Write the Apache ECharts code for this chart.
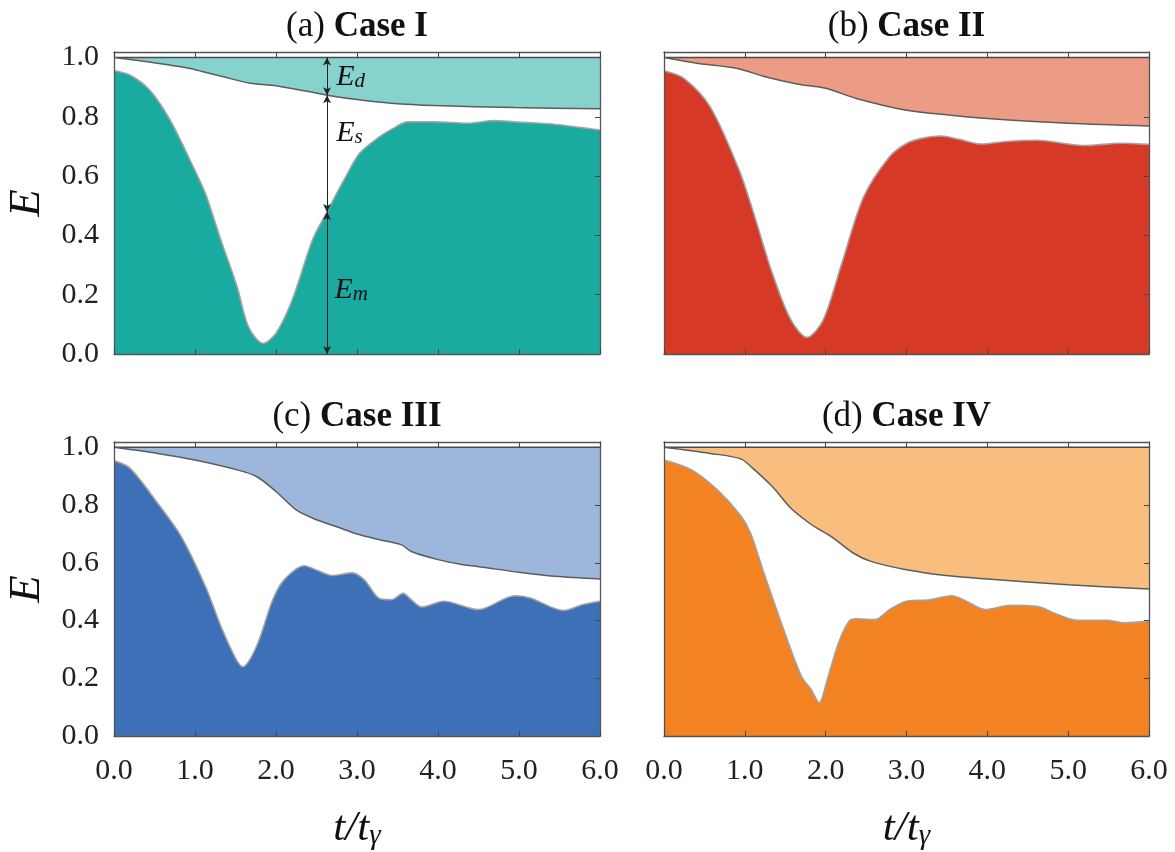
<!DOCTYPE html>
<html><head><meta charset="utf-8">
<script src="https://cdn.jsdelivr.net/npm/echarts@6/dist/echarts.min.js"></script>
<style>html,body{margin:0;padding:0;background:#fff}#c{width:1175px;height:852px}</style>
</head><body><div id="c"></div>
<script>
// ---------- data ----------
const panelTitles = [['(a)','Case I'],['(b)','Case II'],['(c)','Case III'],['(d)','Case IV']];
const xTickValues = [0,1,2,3,4,5,6];
const yTickValues = [0,0.2,0.4,0.6,0.8,1.0];

// total energy (normalised) line
const total_t = [0, 6];
const total_E = [1.0, 1.0];

const upperA_t = [0,0.3,0.6,0.94,1.1,1.35,1.68,2.0,2.18,2.4,2.65,3.0,3.42,3.96,4.94,6.0];
const upperA_E = [1.0,0.99,0.978,0.963,0.952,0.935,0.913,0.905,0.896,0.885,0.872,0.858,0.846,0.838,0.831,0.827];
const lowerA_t = [0,0.2,0.44,0.69,0.98,1.13,1.32,1.52,1.66,1.84,2.0,2.2,2.45,2.62,2.84,3.03,3.28,3.48,3.62,3.96,4.36,4.7,4.94,5.43,6.0];
const lowerA_E = [0.955,0.94,0.89,0.79,0.63,0.54,0.384,0.227,0.092,0.036,0.07,0.182,0.384,0.474,0.587,0.676,0.733,0.766,0.783,0.783,0.778,0.787,0.783,0.775,0.755];

const upperB_t = [0,0.43,0.91,1.25,1.66,2.0,2.38,3.0,3.52,4.0,5.0,6.0];
const upperB_E = [1.0,0.98,0.963,0.935,0.91,0.896,0.862,0.822,0.806,0.794,0.778,0.769];
const lowerB_t = [0,0.25,0.57,0.93,1.11,1.34,1.57,1.77,1.97,2.2,2.47,2.79,3.0,3.2,3.43,3.65,3.93,4.2,4.61,5.0,5.2,5.65,6.0];
const lowerB_E = [0.955,0.929,0.834,0.62,0.474,0.272,0.115,0.056,0.115,0.306,0.53,0.665,0.71,0.728,0.735,0.724,0.708,0.716,0.721,0.708,0.703,0.711,0.707];

const upperC_t = [0,0.54,1.0,1.52,1.76,2.0,2.25,2.5,2.74,3.0,3.28,3.55,3.67,4.0,4.26,4.55,5.0,5.44,6.0];
const upperC_E = [1.0,0.979,0.956,0.922,0.899,0.847,0.783,0.749,0.726,0.7,0.68,0.662,0.639,0.611,0.596,0.585,0.567,0.553,0.544];
const lowerC_t = [0,0.2,0.54,0.83,1.13,1.32,1.5,1.59,1.76,1.96,2.1,2.35,2.5,2.69,2.94,3.09,3.28,3.43,3.57,3.67,3.8,4.07,4.5,4.95,5.14,5.55,5.78,6.0];
const lowerC_E = [0.954,0.927,0.806,0.691,0.518,0.38,0.27,0.24,0.311,0.472,0.541,0.59,0.575,0.556,0.565,0.541,0.476,0.472,0.494,0.472,0.447,0.467,0.438,0.486,0.478,0.435,0.455,0.467];

const upperD_t = [0,0.57,0.95,1.1,1.34,1.57,1.8,1.93,2.07,2.34,2.56,3.0,3.52,4.0,5.0,6.0];
const upperD_E = [1.0,0.979,0.96,0.927,0.864,0.789,0.737,0.714,0.691,0.634,0.605,0.576,0.555,0.544,0.524,0.509];
const lowerD_t = [0,0.34,0.66,0.95,1.07,1.25,1.48,1.7,1.82,1.92,2.02,2.16,2.29,2.38,2.61,2.79,3.0,3.29,3.56,3.74,3.97,4.29,4.61,4.88,5.11,5.47,5.7,6.0];
const lowerD_E = [0.956,0.922,0.853,0.763,0.703,0.553,0.369,0.207,0.161,0.115,0.196,0.323,0.398,0.406,0.403,0.438,0.467,0.472,0.486,0.467,0.438,0.453,0.449,0.42,0.401,0.401,0.392,0.398];

// annotation in panel (a)
const annotArrow_t = 2.63;
const annotLabel_t = [2.73, 2.73, 2.71];
const annotLabel_E = [0.934, 0.745, 0.216];
const annotLabel_sub = ['d', 's', 'm'];

// ---------- styling / layout ----------
const FONT = '"Liberation Serif", "DejaVu Serif", serif';
const curves = [
  [upperA_t, upperA_E, lowerA_t, lowerA_E],
  [upperB_t, upperB_E, lowerB_t, lowerB_E],
  [upperC_t, upperC_E, lowerC_t, lowerC_E],
  [upperD_t, upperD_E, lowerD_t, lowerD_E]
];
const colors = [
  {dark:'#1aaba0', light:'#86d2cd'},
  {dark:'#d63a27', light:'#ec9c84'},
  {dark:'#3e70b7', light:'#9cb6dc'},
  {dark:'#f28222', light:'#f9be7e'}
];
const grids = [
  {left:114, top:52, width:486, height:302},
  {left:664, top:52, width:485, height:302},
  {left:114, top:442, width:486, height:295},
  {left:664, top:442, width:485, height:295}
];
const Y_MAX = 1.0185;
const FRAME = '#555';

function pairs(ts, es){ return ts.map((t,i)=>[t, es[i]]); }
function interp(ts, es, t){
  for (let i=1;i<ts.length;i++){ if (t<=ts[i]){ const f=(t-ts[i-1])/(ts[i]-ts[i-1]); return es[i-1]+f*(es[i]-es[i-1]); } }
  return es[es.length-1];
}

const xAxes = [], yAxes = [], series = [];
grids.forEach((g,i)=>{
  const bottomRow = i>=2, leftCol = (i%2===0);
  xAxes.push({
    gridIndex:i, type:'value', min:0, max:6, interval:1, position:'bottom', z:10,
    axisLine:{show:true, onZero:false, lineStyle:{color:FRAME, width:1.3}},
    axisTick:{show:true, inside:true, length:5, lineStyle:{color:'#444', width:1}},
    axisLabel:{show:bottomRow, margin:20, fontFamily:FONT, fontSize:30, color:'#222', formatter:v=>v.toFixed(1)},
    splitLine:{show:false},
    name: bottomRow ? '{t|t/t}{g|γ}' : '', nameLocation:'middle', nameGap:71,
    nameTextStyle:{rich:{
      t:{fontFamily:FONT, fontStyle:'italic', fontSize:43, color:'#111', lineHeight:44},
      g:{fontFamily:FONT, fontStyle:'italic', fontSize:29, color:'#111', lineHeight:12, verticalAlign:'bottom'}
    }}
  });
  xAxes.push({
    gridIndex:i, type:'value', min:0, max:6, interval:1, position:'top', z:10,
    axisLine:{show:true, onZero:false, lineStyle:{color:FRAME, width:1.3}},
    axisTick:{show:true, inside:true, length:6, lineStyle:{color:'#444', width:1}},
    axisLabel:{show:false}, splitLine:{show:false}
  });
  yAxes.push({
    gridIndex:i, type:'value', min:0, max:Y_MAX, interval:0.2, position:'left', z:10,
    axisLine:{show:true, onZero:false, lineStyle:{color:FRAME, width:1.3}},
    axisTick:{show:false},
    axisLabel:{show:leftCol, margin:15, fontFamily:FONT, fontSize:30, color:'#222',
      customValues:yTickValues, formatter:v=> v>1.001 ? '' : v.toFixed(1)},
    splitLine:{show:false},
    name: leftCol ? 'E' : '', nameLocation:'middle', nameGap:64,
    nameTextStyle:{fontFamily:FONT, fontStyle:'italic', fontSize:45, color:'#111'}
  });
  yAxes.push({
    gridIndex:i, type:'value', min:0, max:Y_MAX, interval:0.2, position:'right', z:10,
    axisLine:{show:true, onZero:false, lineStyle:{color:FRAME, width:1.3}},
    axisTick:{show:true, inside:true, length:5, customValues:yTickValues.slice(1,-1), lineStyle:{color:'#444', width:1}},
    axisLabel:{show:false}, splitLine:{show:false}
  });
  const [ut, ue, lt, le] = curves[i];
  const xi = 2*i, yi = 2*i;
  series.push({
    type:'line', xAxisIndex:xi, yAxisIndex:yi, data:pairs(total_t, total_E),
    symbol:'none', silent:true, z:1,
    lineStyle:{color:'#4a4a4a', width:1.5},
    areaStyle:{color:colors[i].light, opacity:1, origin:'start'}
  });
  series.push({
    type:'line', xAxisIndex:xi, yAxisIndex:yi, data:pairs(ut, ue),
    smooth:0.3, symbol:'none', silent:true, z:2,
    lineStyle:{color:'#5c5c5c', width:1.5},
    areaStyle:{color:'#ffffff', opacity:1, origin:'start'}
  });
  series.push({
    type:'line', xAxisIndex:xi, yAxisIndex:yi, data:pairs(lt, le),
    smooth:0.3, symbol:'none', silent:true, z:3,
    lineStyle:{color:'#a3a3a3', width:1.6},
    areaStyle:{color:colors[i].dark, opacity:1, origin:'start'}
  });
});

// annotation arrows + labels in panel (a)
const upAt = interp(upperA_t, upperA_E, annotArrow_t);
const loAt = interp(lowerA_t, lowerA_E, annotArrow_t);
series.push({
  type:'scatter', xAxisIndex:0, yAxisIndex:0, z:6, silent:true,
  symbolSize:2, itemStyle:{color:'rgba(0,0,0,0)'},
  data: annotLabel_t.map((t,k)=>({value:[t, annotLabel_E[k]], sub:annotLabel_sub[k]})),
  label:{show:true, position:'right', distance:0, color:'#111', opacity:1,
    formatter:p=>'{e|E}{s|'+p.data.sub+'}',
    rich:{
      e:{fontFamily:FONT, fontStyle:'italic', fontSize:30, color:'#111', lineHeight:30},
      s:{fontFamily:FONT, fontStyle:'italic', fontSize:21, color:'#111', lineHeight:10, verticalAlign:'bottom'}
    }},
  emphasis:{disabled:true},
  labelLayout:{hideOverlap:false},
  markLine:{
    silent:true, symbol:['arrow','arrow'], symbolSize:[6,8], precision:4,
    lineStyle:{color:'#222', width:1, type:'solid', opacity:1}, label:{show:false},
    data:[
      [{coord:[annotArrow_t, 1.0]}, {coord:[annotArrow_t, upAt]}],
      [{coord:[annotArrow_t, upAt]}, {coord:[annotArrow_t, loAt]}],
      [{coord:[annotArrow_t, loAt]}, {coord:[annotArrow_t, 0]}]
    ]
  }
});

const titleCenters = grids.map(g=>({x:g.left+g.width/2, y:g.top-25}));
const graphic = panelTitles.map((pt,i)=>({
  type:'text', x:titleCenters[i].x, y:titleCenters[i].y, z:20,
  style:{
    text:'{n|'+pt[0]+'\u00a0}{b|'+pt[1]+'}',
    align:'center', verticalAlign:'middle',
    rich:{
      n:{fontFamily:FONT, fontSize:35, fill:'#111'},
      b:{fontFamily:FONT, fontSize:35, fontWeight:'bold', fill:'#111'}
    }
  }
}));

const chart = echarts.init(document.getElementById('c'), null, {renderer:'canvas'});
chart.setOption({
  animation:false,
  backgroundColor:'#fff',
  grid: grids.map(g=>Object.assign({containLabel:false}, g)),
  xAxis: xAxes, yAxis: yAxes, series: series, graphic: graphic
});
</script>
</body></html>
